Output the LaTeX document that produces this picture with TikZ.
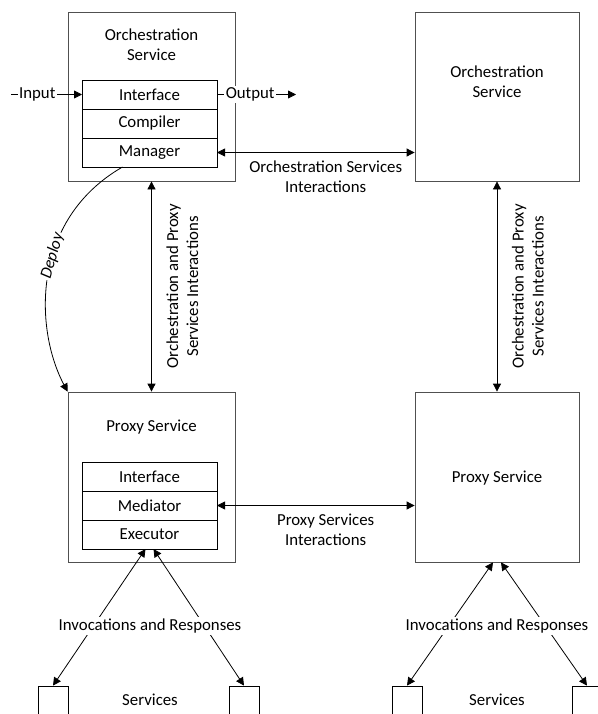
\documentclass[tikz,border=0pt]{standalone}
\usepackage{fontspec}
\setmainfont{Carlito}
\usepackage{tikz}
\usetikzlibrary{arrows.meta, positioning, calc}
\definecolor{boxgray}{RGB}{80,80,80}
\tikzset{
  outerbox/.style={rectangle, draw=boxgray, line width=0.6pt,
    minimum width=125.25pt, minimum height=126.75pt, inner sep=0pt},
  part/.style={rectangle, draw=black, line width=0.6pt,
    minimum width=101.25pt, minimum height=21.75pt, inner sep=0pt, outer sep=0pt},
  svcbox/.style={rectangle, draw=black, line width=0.6pt,
    minimum width=22.5pt, minimum height=27pt, inner sep=0pt},
  lbl/.style={align=center, inner sep=1pt},
  conn/.style={-{Triangle[length=6pt, width=6pt]}, line width=0.6pt},
  biconn/.style={{Triangle[length=6pt, width=6pt]}-{Triangle[length=6pt, width=6pt]}, line width=0.6pt}
}

\begin{document}
\begin{tikzpicture}[x=0.75pt, y=-0.75pt, font=\fontsize{12.6}{15}\selectfont]
  \clip (0,0) rectangle (598,714);

  % Orchestration services
  \node[outerbox] (orchL) at (151.5,96.5) {};
  \node[lbl] (orchLtxt) at (151.5,45) {Orchestration\\Service};
  \node[part] (ifcO) at (149.5,94.5) {Interface};
  \node[part, below=0pt of ifcO] (cmp) {Compiler};
  \node[part, below=0pt of cmp] (mgr) {Manager};

  \node[outerbox, minimum width=123pt] (orchR) at (497,96.5) {};
  \node[lbl] (orchRtxt) at (497,82) {Orchestration\\Service};

  % Proxy services
  \node[outerbox, minimum height=127.5pt] (proxL) at (151.5,477) {};
  \node[lbl] (proxLtxt) at (151.5,427) {Proxy Service};
  \node[part] (ifcP) at (149.5,476.5) {Interface};
  \node[part, below=0pt of ifcP] (med) {Mediator};
  \node[part, below=0pt of med] (exe) {Executor};

  \node[outerbox, minimum width=123pt, minimum height=127.5pt] (proxR) at (497,477) {};
  \node[lbl] (proxRtxt) at (497,478) {Proxy Service};

  % Input / Output
  \coordinate (inp) at (11,94.5);
  \coordinate (outp) at (296,94.5);
  \draw[conn] (inp) -- node[pos=0.37, fill=white, lbl] {Input} (ifcO.west);
  \draw[conn] (ifcO.east) -- node[pos=0.42, fill=white, lbl] {Output} (outp);

  % Interactions
  \draw[biconn] (mgr.east) -- node[pos=0.55, below=5pt, lbl] {Orchestration Services\\Interactions} (orchR.west |- mgr.east);
  \draw[biconn] (med.east) -- node[pos=0.55, below=5pt, lbl] {Proxy Services\\Interactions} (proxR.west |- med.east);
  \draw[biconn] (orchL.south) -- node[midway, rotate=90, anchor=north, lbl, inner sep=11pt] {Orchestration and Proxy\\Services Interactions} (proxL.north);
  \draw[biconn] (orchR.south) -- node[midway, rotate=90, anchor=north, lbl, inner sep=11pt] {Orchestration and Proxy\\Services Interactions} (proxR.north);

  % Deploy
  \draw[conn] ($(mgr.south)+(-27,0)$) .. controls +(-92,53) and +(-33,-62) .. (proxL.north west)
    node[pos=0.42, sloped, fill=white, lbl, font=\fontsize{12.6}{15}\selectfont\itshape] {Deploy};

  % Services
  \node[svcbox] (s1) at (53,704) {};
  \node[svcbox] (s2) at (244,704) {};
  \node[svcbox] (s3) at (407,704) {};
  \node[svcbox] (s4) at (587,704) {};
  \node[lbl] (svcL) at (150,700) {Services};
  \node[lbl] (svcR) at (497,700) {Services};

  \draw[biconn] ($(exe.south)+(-4,0)$) -- (s1.north);
  \draw[biconn] ($(exe.south)+(4,0)$) -- (s2.north);
  \draw[biconn] ($(proxR.south)+(-4,0)$) -- (s3.north);
  \draw[biconn] ($(proxR.south)+(4,0)$) -- (s4.north);
  \node[lbl, fill=white] (invL) at (150,626) {Invocations and Responses};
  \node[lbl, fill=white] (invR) at (497,626) {Invocations and Responses};
\end{tikzpicture}
\end{document}
